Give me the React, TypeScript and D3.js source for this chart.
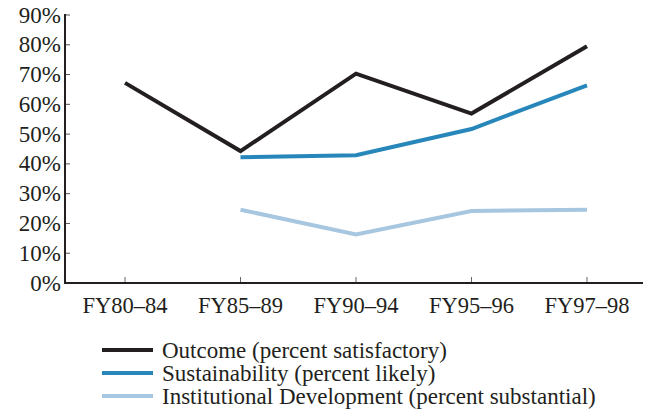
import React from "react";
import * as d3 from "d3";

const categories = ["FY80–84", "FY85–89", "FY90–94", "FY95–96", "FY97–98"];
const outcome: (number | null)[] = [67.2, 44.3, 70.3, 56.9, 79.5];
const sustainability: (number | null)[] = [null, 42.2, 42.9, 51.7, 66.4];
const institutional: (number | null)[] = [null, 24.6, 16.3, 24.2, 24.6];
const yTicks = [0, 10, 20, 30, 40, 50, 60, 70, 80, 90];
const seriesNames = [
  "Outcome (percent satisfactory)",
  "Sustainability (percent likely)",
  "Institutional Development (percent substantial)",
];
const seriesColors = ["#231f20", "#2787bb", "#a7c6e0"];

export default function App() {
  const W = 650, H = 410;
  const x = d3.scalePoint<string>().domain(categories).range([125, 587]);
  const y = d3.scaleLinear().domain([0, 90]).range([283, 15]);
  const font = "'Liberation Serif', 'Times New Roman', serif";
  const line = d3
    .line<number | null>()
    .defined((d) => d !== null)
    .x((_, i) => x(categories[i]) as number)
    .y((d) => y(d as number));
  const series = [outcome, sustainability, institutional];
  return (
    <svg width={W} height={H} style={{ position: "absolute", left: 0, top: 0 }}>
      <rect width={W} height={H} fill="#fff" />
      {yTicks.map((t) => (
        <g key={t}>
          <line x1={65} x2={70} y1={y(t)} y2={y(t)} stroke="#555" strokeWidth={1} />
          <text x={61} y={y(t) + 7.5} textAnchor="end" fontFamily={font} fontSize={23} fill="#231f20">
            {t}%
          </text>
        </g>
      ))}
      {categories.map((c) => (
        <g key={c}>
          <line x1={x(c)} x2={x(c)} y1={283} y2={277} stroke="#666" strokeWidth={1} />
          <text x={x(c)} y={313} textAnchor="middle" fontFamily={font} fontSize={22.5} fill="#231f20">
            {c}
          </text>
        </g>
      ))}
      <line x1={65} x2={65} y1={14} y2={284} stroke="#231f20" strokeWidth={2} />
      <line x1={64} x2={643} y1={283} y2={283} stroke="#231f20" strokeWidth={2} />
      {series.map((s, i) => (
        <path key={i} d={line(s) || ""} fill="none" stroke={seriesColors[i]} strokeWidth={4} strokeLinejoin="miter" />
      ))}
      {seriesNames.map((n, i) => (
        <g key={n}>
          <line x1={102} x2={153} y1={350 + i * 23} y2={350 + i * 23} stroke={seriesColors[i]} strokeWidth={4} />
          <text x={162} y={358 + i * 23} fontFamily={font} fontSize={23} fill="#231f20">
            {n}
          </text>
        </g>
      ))}
    </svg>
  );
}
